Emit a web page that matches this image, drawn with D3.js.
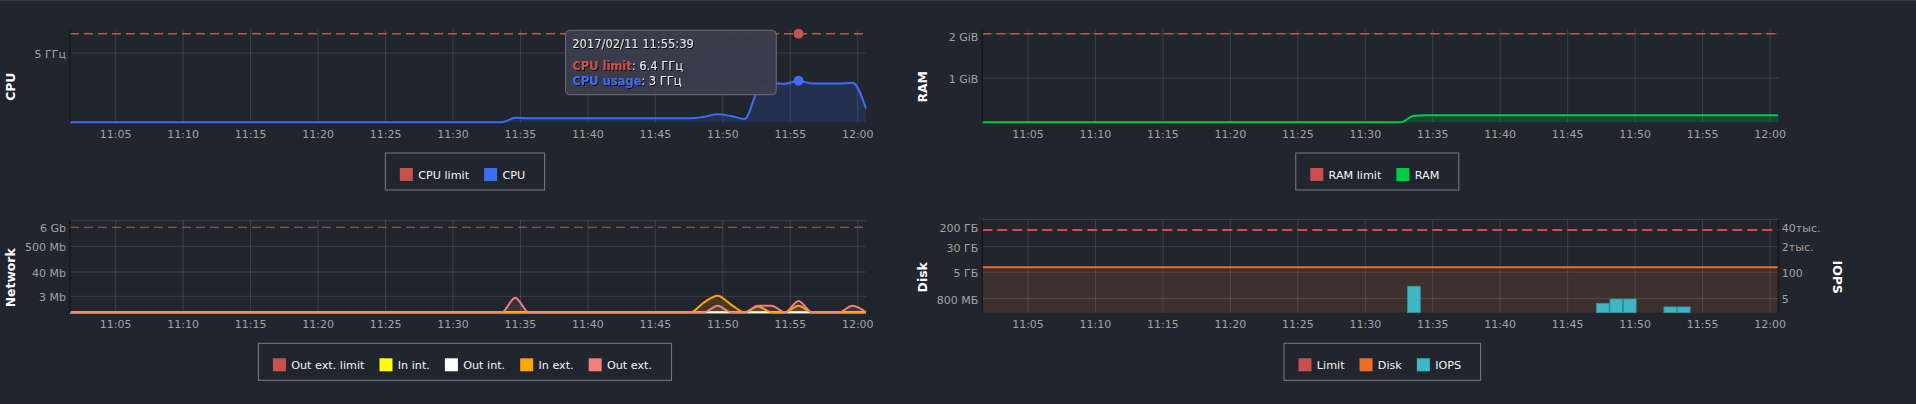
<!DOCTYPE html>
<html><head><meta charset="utf-8">
<script src="https://cdn.jsdelivr.net/npm/d3@7"></script>
<style>
html,body{margin:0;padding:0;background:#20252e;}
svg{display:block;}
</style></head><body>
<svg id="chart" width="1916" height="404"></svg>
<script>
// ---------------- DATA ----------------
const startTime = new Date(2017, 1, 11, 11, 1, 39);      // first sample, one per minute
const sampleCount = 60;
const times = d3.range(sampleCount).map(i => d3.timeMinute.offset(startTime, i));

// CPU, GHz
const cpuLimit = 6.4;
const cpuUsage = [
  0,0,0,0,0,0,0,0,0,0,
  0,0,0,0,0,0,0,0,0,0,
  0,0,0,0,0,0,0,0,0,0,
  0,0,0,0.32,0.29,0.29,0.29,0.29,0.29,0.29,
  0.29,0.29,0.29,0.29,0.29,0.29,0.29,0.4,0.58,0.45,
  0.24,2.3,2.82,2.78,3.0,2.8,2.8,2.8,2.86,1.0
];
const cpuTicks = [5];
const cpuTickLabels = ["5 ГГц"];

// RAM, GiB
const ramLimit = 2;
const ramUsage = [
  0,0,0,0,0,0,0,0,0,0,
  0,0,0,0,0,0,0,0,0,0,
  0,0,0,0,0,0,0,0,0,0,
  0,0,0.15,0.16,0.16,0.16,0.16,0.16,0.16,0.16,
  0.16,0.16,0.16,0.16,0.16,0.16,0.16,0.16,0.16,0.16,
  0.16,0.16,0.16,0.16,0.16,0.16,0.16,0.16,0.16,0.16
];
const ramTicks = [1, 2];
const ramTickLabels = ["1 GiB", "2 GiB"];

// Network, Mb
const netLimit = 3200;
const netInInt = [
  0,0,0,0,0,0,0,0,0,0, 0,0,0,0,0,0,0,0,0,0, 0,0,0,0,0,0,0,0,0,0,
  0,0,0,0,0,0,0,0,0,0, 0,0,0,0,0,0,0,0,0,0, 0,0,0,0,0,0,0,0,0,0
];
const netOutInt = [
  0,0,0,0,0,0,0,0,0,0, 0,0,0,0,0,0,0,0,0,0, 0,0,0,0,0,0,0,0,0,0,
  0,0,0,0,0,0,0,0,0,0, 0,0,0,0,0,0,0,0,0,0, 0,0,0,0,0,0,0,0,0,0
];
const netInExt = [
  0,0,0,0,0,0,0,0,0,0, 0,0,0,0,0,0,0,0,0,0, 0,0,0,0,0,0,0,0,0,0,
  0,0,0,0,0,0,0,0,0,0, 0,0,0,0,0,0,0,1.32,3.24,0.9, 0,0.6,0,0,0.72,0,0,0,0,0
];
const netOutExt = [
  0,0,0,0,0,0,0,0,0,0, 0,0,0,0,0,0,0,0,0,0, 0,0,0,0,0,0,0,0,0,0,
  0,0,0,2.52,0,0,0,0,0,0, 0,0,0,0,0,0,0,0,0.72,0, 0,0.72,0.72,0,1.61,0,0,0,0.72,0
];
const netTicks = [3, 40, 500, 6000];
const netTickLabels = ["3 Mb", "40 Mb", "500 Mb", "6 Gb"];

// Disk, MB  and IOPS
const diskLimit = 96000;
const diskUsed = [
  7100,7100,7100,7100,7100,7100,7100,7100,7100,7100,
  7100,7100,7100,7100,7100,7100,7100,7100,7100,7100,
  7100,7100,7100,7100,7100,7100,7100,7100,7100,7100,
  7100,7100,7100,7100,7100,7100,7100,7100,7100,7100,
  7100,7100,7100,7100,7100,7100,7100,7100,7100,7100,
  7100,7100,7100,7100,7100,7100,7100,7100,7100,7100
];
const iops = [
  0,0,0,0,0,0,0,0,0,0, 0,0,0,0,0,0,0,0,0,0, 0,0,0,0,0,0,0,0,0,0,
  0,0,20,0,0,0,0,0,0,0, 0,0,0,0,0,0,2.8,4.6,4.6,0, 0,1.85,1.85,0,0,0,0,0,0,0
];
const diskTicks = [800, 5000, 30000, 200000];
const diskTickLabels = ["800 МБ", "5 ГБ", "30 ГБ", "200 ГБ"];
const iopsTicks = [5, 100, 2000, 40000];
const iopsTickLabels = ["5", "100", "2тыс.", "40тыс."];

const tooltipIndex = 54;

// ---------------- STYLE ----------------
const BG = "#20252e", GRID = "rgba(255,255,255,0.13)", TICK = "#a3a3a3", AXIS = "#12151a";
const FONT = "DejaVu Sans";
const C = {
  limit: "#c9514d", cpu: "#3d6cf5", ram: "#00cc44",
  yellow: "#ffff00", white: "#ffffff", orange: "#ffa500", pink: "#f08080",
  disk: "#ec6f24", iops: "#3eb6c3"
};

const svg = d3.select("#chart");
svg.append("rect").attr("width",1916).attr("height",404).attr("fill",BG);
svg.append("rect").attr("width",1916).attr("height",1.2).attr("fill","#363b46");

const defs = svg.append("defs");
defs.append("filter").attr("id","ts").attr("x","-10%").attr("y","-30%").attr("width","130%").attr("height","170%")
  .append("feDropShadow").attr("dx",1).attr("dy",1).attr("stdDeviation",0.6)
  .attr("flood-color","#000").attr("flood-opacity",0.8);

const W = 796;
const P = {
  cpu:  {x0: 70,    y0: 29.3, h: 93},
  ram:  {x0: 982.3, y0: 29.3, h: 93},
  net:  {x0: 70,    y0: 220,  h: 92.3},
  disk: {x0: 982.3, y0: 220,  h: 92.7}
};
const fmtTick = d3.timeFormat("%H:%M");

function xScale(p){ return d3.scaleTime().domain([times[0], times[times.length-1]]).range([p.x0, p.x0 + W]); }

const labelLayer = [];
function yLabels(p, y, ticks, labels, side){
  const xpos = side === "left" ? p.x0 - 4 : p.x0 + W + 3.5;
  ticks.forEach((v, i) => {
    labelLayer.push({x: xpos, y: Math.max(y(v) + 1.2, p.y0 + 7.6), label: labels[i],
                     anchor: side === "left" ? "end" : "start"});
  });
}

function frame(p, x, y, ticks, labels){
  const g = svg.append("g");
  // vertical grid
  g.append("g").attr("transform",`translate(0,${p.y0+p.h})`)
    .call(d3.axisBottom(x).ticks(d3.timeMinute.every(5)).tickSize(-p.h).tickFormat(""))
    .call(a=>a.select(".domain").remove())
    .call(a=>a.selectAll("line").attr("stroke",GRID));
  // horizontal grid
  g.selectAll("line.hg").data(ticks.filter(v => y(v) >= p.y0 - 0.6 && y(v) <= p.y0 + p.h)).join("line")
    .attr("class","hg").attr("x1",p.x0).attr("x2",p.x0+W)
    .attr("y1",d=>y(d)).attr("y2",d=>y(d)).attr("stroke",GRID);
  // x labels
  g.append("g").attr("transform",`translate(0,${p.y0+p.h})`)
    .call(d3.axisBottom(x).ticks(d3.timeMinute.every(5)).tickSize(0).tickPadding(7.4).tickFormat(fmtTick))
    .attr("font-size",11).attr("font-family",FONT)
    .call(a=>a.select(".domain").remove())
    .call(a=>a.selectAll("text").attr("fill",TICK));
  yLabels(p, y, ticks, labels, "left");
  return g;
}
function axisLine(x, p){
  svg.append("line").attr("x1",x).attr("x2",x).attr("y1",p.y0).attr("y2",p.y0+p.h)
    .attr("stroke",AXIS).attr("stroke-width",1.2);
}
function title(txt, cx, cy, rot){
  svg.append("text").attr("transform",`translate(${cx},${cy}) rotate(${rot})`)
    .attr("text-anchor","middle").attr("dominant-baseline","central")
    .attr("font-family",FONT).attr("font-weight","bold").attr("font-size",12.4)
    .attr("fill","#ffffff").text(txt);
}
function series(p, x, y, values, color, fillOpacity, width){
  const pts = values.map((v,i)=>[times[i], v]);
  if (fillOpacity > 0) {
    svg.append("path").datum(pts)
      .attr("d", d3.area().x(d=>x(d[0])).y0(p.y0+p.h).y1(d=>y(d[1])).curve(d3.curveMonotoneX))
      .attr("fill", color).attr("fill-opacity", fillOpacity);
  }
  svg.append("path").datum(pts)
    .attr("d", d3.line().x(d=>x(d[0])).y(d=>y(d[1])).curve(d3.curveMonotoneX))
    .attr("fill","none").attr("stroke",color).attr("stroke-width",width||2).attr("stroke-linejoin","round");
}
function limitLine(x, y, v, color, w, dash){
  svg.append("path").datum([times[0], times[times.length-1]])
    .attr("d", d3.line().x(d=>x(d)).y(()=>y(v)))
    .attr("stroke", color).attr("stroke-width", w).attr("stroke-dasharray", dash).attr("fill","none");
}
function legend(cx, top, items){
  const g = svg.append("g");
  const box = g.append("rect");
  let cur = 0;
  const padL = 14.5, padR = 19.5;
  const parts = [];
  items.forEach((it, i) => {
    const ig = g.append("g");
    ig.append("rect").attr("x",0).attr("y",top+15).attr("width",13).attr("height",13).attr("fill",it.color);
    const t = ig.append("text").attr("x",18.3).attr("y",top+25.8).attr("font-family",FONT).attr("font-size",11.2)
      .attr("fill","#f4f4f4").text(it.label);
    const tw = t.node().getComputedTextLength();
    parts.push({g: ig, off: cur});
    cur += 18.3 + tw + (i < items.length-1 ? 15 : 0);
  });
  const total = padL + cur + padR;
  const left = cx - total/2;
  parts.forEach(pt => pt.g.attr("transform",`translate(${left + padL + pt.off},0)`));
  box.attr("x",left).attr("y",top).attr("width",total).attr("height",37)
    .attr("fill","none").attr("stroke","#7b7d82").attr("stroke-width",1);
}

// ---------------- CPU ----------------
{
  const p = P.cpu, x = xScale(p);
  const y = d3.scaleLinear().domain([0, cpuLimit*1.05]).range([p.y0+p.h, p.y0]);
  frame(p, x, y, cpuTicks, cpuTickLabels);
  limitLine(x, y, cpuLimit, C.limit, 1.3, "9,5");
  series(p, x, y, cpuUsage, C.cpu, 0.16, 2);
  axisLine(p.x0, p);
  title("CPU", 10.5, 86.7, -90);
  legend(p.x0 + W/2 - 3, 153, [{label:"CPU limit", color:C.limit},{label:"CPU", color:C.cpu}]);

  // tooltip
  const tx = x(times[tooltipIndex]);
  svg.append("circle").attr("cx",tx).attr("cy",y(cpuLimit)).attr("r",5).attr("fill",C.limit);
  svg.append("circle").attr("cx",tx).attr("cy",y(cpuUsage[tooltipIndex])).attr("r",5).attr("fill",C.cpu);
  const bx = tx - 233, by = 30.3;
  const tg = svg.append("g");
  tg.append("rect").attr("x",bx).attr("y",by).attr("width",210.7).attr("height",64.4).attr("rx",4)
    .attr("fill","#3b3d4d").attr("fill-opacity",0.96).attr("stroke","#6e7079").attr("stroke-width",1);
  const tt = tg.append("g").attr("font-family",FONT).attr("font-size",11.5).attr("filter","url(#ts)");
  tt.append("text").attr("x",bx+6.7).attr("y",by+17.7).attr("fill","#e4e4e4")
    .text(d3.timeFormat("%Y/%m/%d %H:%M:%S")(times[tooltipIndex]));
  const l1 = tt.append("text").attr("x",bx+6.7).attr("y",by+39.5).attr("fill","#e8e8e8");
  l1.append("tspan").attr("fill",C.limit).attr("font-weight","bold").text("CPU limit");
  l1.append("tspan").text(": " + d3.format("~g")(cpuLimit) + " ГГц");
  const l2 = tt.append("text").attr("x",bx+6.7).attr("y",by+55).attr("fill","#e8e8e8");
  l2.append("tspan").attr("fill",C.cpu).attr("font-weight","bold").text("CPU usage");
  l2.append("tspan").text(": " + d3.format("~g")(cpuUsage[tooltipIndex]) + " ГГц");
}

// ---------------- RAM ----------------
{
  const p = P.ram, x = xScale(p);
  const y = d3.scaleLinear().domain([0, ramLimit*1.05]).range([p.y0+p.h, p.y0]);
  frame(p, x, y, ramTicks, ramTickLabels);
  limitLine(x, y, ramLimit, C.limit, 1.3, "9,5");
  series(p, x, y, ramUsage, C.ram, 0.2, 2);
  axisLine(p.x0, p);
  title("RAM", 922.7, 86.8, -90);
  legend(p.x0 + W/2 - 3, 153, [{label:"RAM limit", color:C.limit},{label:"RAM", color:C.ram}]);
}

// ---------------- Network ----------------
{
  const p = P.net, x = xScale(p);
  const y = d3.scaleSymlog().constant(0.8).domain([0, 6500]).range([p.y0+p.h, p.y0]);
  frame(p, x, y, netTicks, netTickLabels);
  limitLine(x, y, netLimit, C.limit, 1.2, "9,5");
  series(p, x, y, netInInt, C.yellow, 0.12, 2);
  series(p, x, y, netOutInt, C.white, 0.12, 2);
  series(p, x, y, netInExt, C.orange, 0.15, 2);
  series(p, x, y, netOutExt, C.pink, 0.13, 2);
  axisLine(p.x0, p);
  title("Network", 10.5, 277.8, -90);
  legend(p.x0 + W/2 - 3, 343.3, [
    {label:"Out ext. limit", color:C.limit},{label:"In int.", color:C.yellow},
    {label:"Out int.", color:C.white},{label:"In ext.", color:C.orange},{label:"Out ext.", color:C.pink}]);
}

// ---------------- Disk / IOPS ----------------
{
  const p = P.disk, x = xScale(p);
  const y = d3.scaleLog().domain([298.5, 192000]).range([p.y0+p.h, p.y0]);
  const yI = d3.scaleLog().domain([0.95, 41200]).range([p.y0+p.h, p.y0]);
  frame(p, x, y, diskTicks, diskTickLabels);
  yLabels(p, yI, iopsTicks, iopsTickLabels, "right");
  series(p, x, y, diskUsed, C.disk, 0.15, 2);
  limitLine(x, y, diskLimit, C.limit, 2, "10,5");
  const step = x(times[1]) - x(times[0]);
  svg.append("g").selectAll("rect").data(iops.map((v,i)=>[times[i], v]).filter(d=>d[1]>0)).join("rect")
    .attr("x", d=>x(d[0]) - step/2 + 0.3).attr("width", step - 0.8)
    .attr("y", d=>yI(d[1])).attr("height", d=>p.y0+p.h - yI(d[1]))
    .attr("fill", C.iops).attr("stroke","#2f949f").attr("stroke-width",0.8);
  axisLine(p.x0, p);
  axisLine(p.x0 + W, p);
  title("Disk", 922.7, 277.3, -90);
  title("IOPS", 1837.7, 277.2, 90);
  legend(p.x0 + W/2 + 2, 343.3, [{label:"Limit", color:C.limit},{label:"Disk", color:C.disk},{label:"IOPS", color:C.iops}]);
}

// y tick labels, drawn last on top of everything
const lg = svg.append("g").attr("font-size",11).attr("font-family",FONT).attr("fill",TICK);
labelLayer.forEach(d => {
  lg.append("text").attr("x", d.x).attr("y", d.y).attr("dy","0.36em")
    .attr("text-anchor", d.anchor).text(d.label);
});
</script>
</body></html>
